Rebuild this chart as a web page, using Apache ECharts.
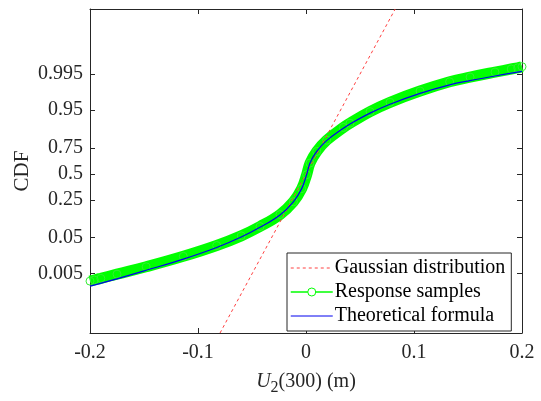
<!DOCTYPE html>
<html>
<head>
<meta charset="utf-8">
<script src="https://cdn.jsdelivr.net/npm/echarts@6/dist/echarts.min.js"></script>
<style>
  html, body { margin: 0; padding: 0; background: #fff; }
  #chart_cdf { width: 541px; height: 401px; }
</style>
</head>
<body>
<div id="chart_cdf"></div>
<script>
// probit (normal quantile) positions of the CDF ticks
const yTickPos = [-2.576, -1.645, -0.674, 0, 0.674, 1.645, 2.576];
const yTickLabels = ['0.005', '0.05', '0.25', '0.5', '0.75', '0.95', '0.995'];

// Gaussian distribution (straight reference line), x / probit
const gaussX = [-0.0796, 0.0826];
const gaussY = [-4.11, 4.26];

// Theoretical formula, x / probit
const theoX = [-0.2, -0.175, -0.148, -0.1136, -0.0827, -0.06, -0.0426, -0.0241, -0.0117, -0.004,
  0.0006, 0.0037, 0.0099, 0.0191, 0.0346, 0.0407, 0.0593, 0.0778, 0.1056, 0.133, 0.1519, 0.175, 0.2];
const theoY = [-2.90, -2.71, -2.49, -2.20, -1.90, -1.63, -1.38, -1.06, -0.72, -0.38,
  -0.02, 0.28, 0.58, 0.86, 1.18, 1.29, 1.57, 1.80, 2.08, 2.30, 2.41, 2.53, 2.65];

// Response samples, x / probit
const sampX = [-0.2, -0.196, -0.19, -0.175, -0.148, -0.1136, -0.0827, -0.06, -0.0426, -0.0241, -0.0117, -0.004,
  0.0006, 0.0037, 0.0099, 0.0191, 0.0346, 0.0407, 0.0593, 0.0778, 0.1056, 0.133, 0.1519, 0.175, 0.19, 0.196, 0.2];
const sampY = [-2.77, -2.74, -2.70, -2.59, -2.40, -2.13, -1.85, -1.60, -1.36, -1.05, -0.72, -0.38,
  -0.02, 0.28, 0.58, 0.87, 1.20, 1.31, 1.61, 1.85, 2.14, 2.38, 2.50, 2.63, 2.71, 2.74, 2.77];

const font = 'Liberation Serif';
const ink = '#262626';

function pairs(xs, ys) {
  return xs.map((x, i) => [x, ys[i]]);
}

const chart = echarts.init(document.getElementById('chart_cdf'));

const xBase = {
  type: 'value', min: -0.2, max: 0.2, interval: 0.1,
  splitLine: { show: false },
  axisLine: { show: true, onZero: false, lineStyle: { color: ink, width: 1 } },
  axisTick: { show: true, inside: true, length: 5, lineStyle: { color: ink } }
};
const yBase = {
  type: 'value', min: -4.11, max: 4.26,
  splitLine: { show: false },
  axisLine: { show: true, onZero: false, lineStyle: { color: ink, width: 1 } },
  axisTick: { show: true, inside: true, length: 5, customValues: yTickPos, lineStyle: { color: ink } }
};

chart.setOption({
  animation: false,
  backgroundColor: '#fff',
  grid: { left: 90, right: 19, top: 9, bottom: 64 },
  xAxis: [
    Object.assign({}, xBase, {
      position: 'bottom',
      name: '{i|U}{s|2}{n|(300) (m)}',
      nameLocation: 'middle',
      nameGap: 35,
      nameMoveOverlap: false,
      nameTextStyle: {
        rich: {
          i: { fontFamily: font, fontSize: 20, fontStyle: 'italic', color: ink },
          s: { fontFamily: font, fontSize: 16, color: ink, verticalAlign: 'bottom', padding: [12, 0, 0, 0] },
          n: { fontFamily: font, fontSize: 20, color: ink }
        }
      },
      axisLabel: { fontFamily: font, fontSize: 20, color: ink, margin: 10 }
    }),
    Object.assign({}, xBase, { position: 'top', axisLabel: { show: false } })
  ],
  yAxis: [
    Object.assign({}, yBase, {
      position: 'left',
      name: 'CDF',
      nameLocation: 'middle',
      nameGap: 57,
      nameMoveOverlap: false,
      nameTextStyle: { fontFamily: font, fontSize: 21, color: ink },
      axisLabel: {
        fontFamily: font, fontSize: 20, color: ink, margin: 7,
        customValues: yTickPos,
        formatter: v => yTickLabels[yTickPos.indexOf(v)]
      }
    }),
    Object.assign({}, yBase, { position: 'right', axisLabel: { show: false } })
  ],
  legend: {
    orient: 'vertical',
    left: 287, top: 253,
    width: 225,
    padding: [5, 6, 5, 3],
    itemGap: 4,
    itemWidth: 42,
    itemHeight: 10,
    backgroundColor: '#fff',
    borderColor: ink,
    borderWidth: 1,
    borderRadius: 0,
    textStyle: { fontFamily: font, fontSize: 20, color: '#000', padding: [0, 0, 0, -3] },
    data: [
      { name: 'Gaussian distribution', lineStyle: { width: 1 }, itemStyle: { opacity: 0 } },
      { name: 'Response samples', lineStyle: { width: 1.5 }, itemStyle: { color: '#fff', borderColor: '#00ff00', borderWidth: 1 } },
      { name: 'Theoretical formula', lineStyle: { width: 1 }, itemStyle: { opacity: 0 } }
    ]
  },
  series: [
    {
      name: 'Gaussian distribution',
      type: 'line',
      symbol: 'none',
      data: pairs(gaussX, gaussY),
      lineStyle: { color: '#ff4040', width: 1, type: [3, 3] },
      itemStyle: { color: '#ff4040' },
      z: 3
    },
    {
      name: 'Response samples',
      type: 'line',
      smooth: 0.4,
      symbol: 'circle',
      symbolSize: 8,
      showAllSymbol: true,
      data: pairs(sampX, sampY),
      lineStyle: { color: '#00ff00', width: 11 },
      itemStyle: { color: 'rgba(0,0,0,0)', borderColor: '#33ee33', borderWidth: 1 },
      z: 2
    },
    {
      name: 'Theoretical formula',
      type: 'line',
      smooth: 0.4,
      symbol: 'none',
      data: pairs(theoX, theoY),
      lineStyle: { color: '#0000ee', width: 1.2 },
      itemStyle: { color: '#0000ee' },
      z: 4
    }
  ]
});
</script>
</body>
</html>
